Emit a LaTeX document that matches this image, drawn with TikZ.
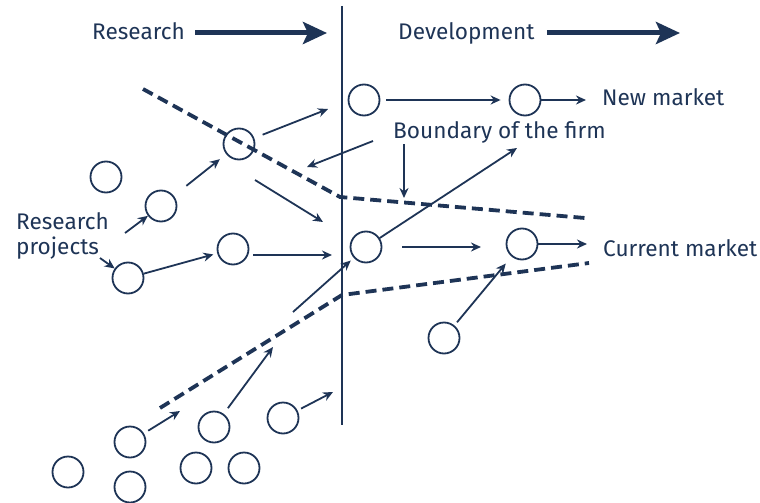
\documentclass[tikz,border=0pt]{standalone}
\usepackage{fontspec}
\setmainfont{Fira Sans}
\usetikzlibrary{arrows.meta}
\definecolor{navy}{RGB}{30,52,86}
\tikzset{
  proj/.style={circle, draw=navy, line width=1.8pt, minimum size=31pt, inner sep=0pt},
  flow/.style={navy, line width=1.8pt, -{Stealth[length=10pt,width=9pt]}},
  phase/.style={navy, line width=5pt, -{Stealth[length=24pt,width=22pt,inset=5pt]}},
  firm/.style={navy, line width=3.8pt, dash pattern=on 11pt off 6pt},
  lbl/.style={text=navy, font=\fontsize{22.6}{26}\selectfont, inner sep=0pt, anchor=base west}
}
\begin{document}
\begin{tikzpicture}[x=1pt,y=-1pt]
\useasboundingbox (0,0) rectangle (760,503);
% Phases
%-----------------------------------------------------------%
  \node[lbl] (res) at (92,40) {Research};
  \node[lbl] (dev) at (398,40) {Development};
  \coordinate (resEnd) at (327,33);
  \coordinate (devEnd) at (680,33);
  \draw[phase] ([xshift=10pt]res.east |- resEnd) -- (resEnd);
  \draw[phase] ([xshift=12pt]dev.east |- devEnd) -- (devEnd);
% research / development divide
  \draw[navy, line width=1.8pt] (342,6) -- (342,425);
% Labels
  \node[lbl] (rp1) at (16,229) {Research};
  \node[lbl] (rp2) at (16,254) {projects};
  \node[lbl] (bnd) at (393,138) {Boundary of the firm};
  \node[lbl] (nm) at (602,105) {New market};
  \node[lbl] (cm) at (603,256) {Current market};
% Projects
%-----------------------------------------------------------%
  \node[proj] (a) at (239,144) {};
  \node[proj] (b) at (106,177) {};
  \node[proj] (c) at (161,206) {};
  \node[proj] (d) at (128,278) {};
  \node[proj] (e) at (233,249) {};
  \node[proj] (f) at (364,100) {};
  \node[proj] (g) at (525,100) {};
  \node[proj] (h) at (366,247) {};
  \node[proj] (i) at (522,244) {};
  \node[proj] (j) at (444,338) {};
  \node[proj] (k) at (130,442) {};
  \node[proj] (l) at (214,427) {};
  \node[proj] (m) at (283,418) {};
% projects that go nowhere
  \foreach \n/\x/\y in {n/68/472, o/130/487, p/196/468, q/244/468}
    { \node[proj] (\n) at (\x,\y) {};}
% Free arrow ends
  \coordinate (ta) at (328,109);
  \coordinate (sc) at (125,233);
  \coordinate (sd) at (100,258);
  \coordinate (sx) at (255,180);
  \coordinate (tx) at (323,222);
  \coordinate (sb1) at (373,141);
  \coordinate (tb1) at (307,167);
  \coordinate (sb2) at (404,144);
  \coordinate (tb2) at (404,198);
  \coordinate (se) at (253,255);
  \coordinate (te) at (332,255);
  \coordinate (th) at (517,148);
  \coordinate (sh) at (293,312);
  \coordinate (tl) at (273,347);
  \coordinate (tk) at (180,411);
  \coordinate (tm) at (333,392);
% Project flows
%-----------------------------------------------------------%
  \draw[flow, shorten <=9pt] (a) -- (ta);
  \draw[flow, shorten <=16pt, shorten >=8pt] (c) -- (a);
  \draw[flow] (sc) -- (c);
  \draw[flow] (sd) -- (d);
  \draw[flow] (sx) -- (tx);
  \draw[flow] (sb1) -- (tb1);
  \draw[flow] (sb2) -- (tb2);
  \draw[flow, shorten >=4pt] (d) -- (e);
  \draw[flow] (se) -- (te);
  \draw[flow, shorten <=6pt, shorten >=8pt] (f) -- (g);
  \draw[flow, shorten >=16pt] (g) -- (g -| nm.west);
  \draw[flow] (h) -- (th);
  \draw[flow, shorten <=20pt, shorten >=41pt] (h) -- (h -| i);
  \draw[flow, shorten >=16pt] (i) -- (i -| cm.west);
  \draw[flow, shorten <=4pt, shorten >=9pt] (j) -- (i);
  \draw[flow, shorten >=4pt] (sh) -- (h);
  \draw[flow, shorten <=7pt] (l) -- (tl);
  \draw[flow, shorten <=5pt] (k) -- (tk);
  \draw[flow, shorten <=4pt] (m) -- (tm);
% Boundary of the firm
%-----------------------------------------------------------%
  \draw[firm] (143,89) -- (340,197) -- (585,218);
  \draw[firm] (160,408) -- (342,295) -- (589,263);
\end{tikzpicture}
\end{document}
